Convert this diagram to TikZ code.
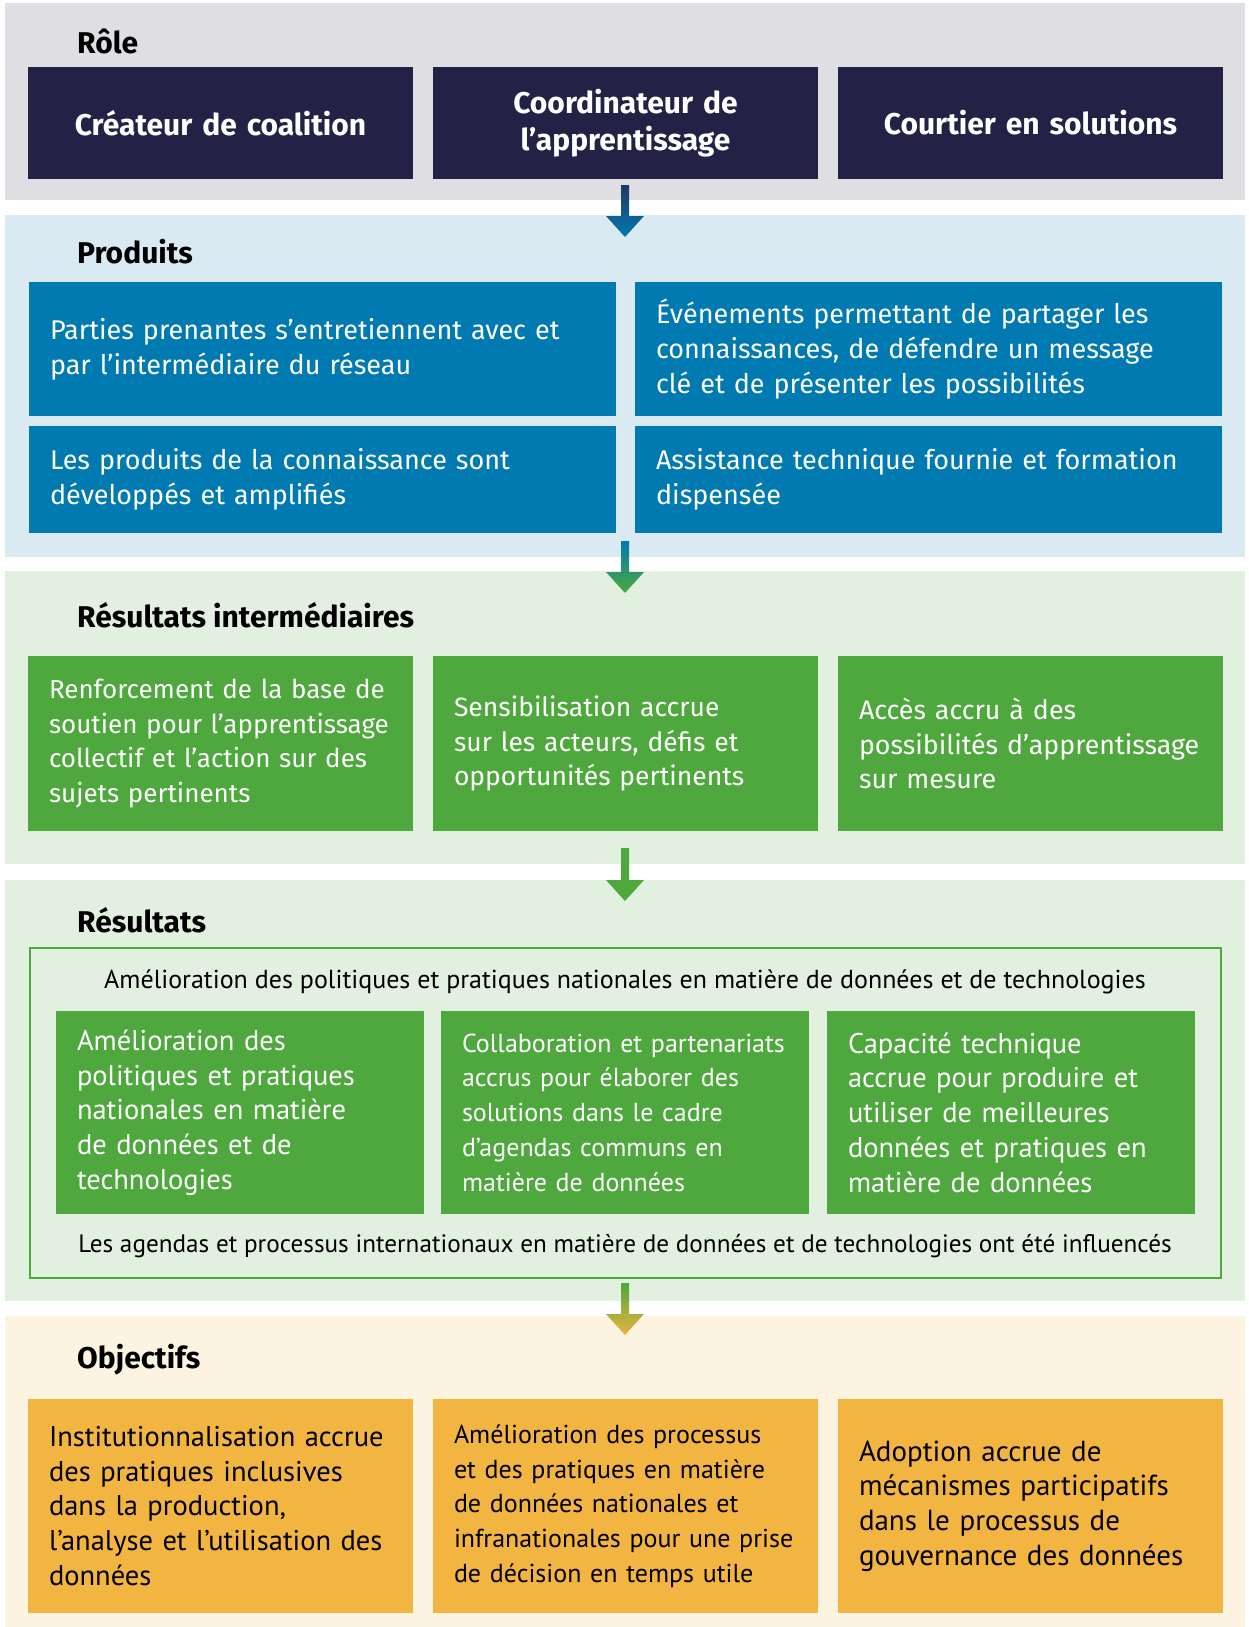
\documentclass[tikz,border=0pt]{standalone}
\usepackage{fontspec}
\setmainfont{Fira Sans}
\newfontfamily\narrowfont{PT Sans}
\usetikzlibrary{calc}

\definecolor{bandgray}{HTML}{DFDEE3}
\definecolor{bandblue}{HTML}{D9EAF2}
\definecolor{bandgreen}{HTML}{E2F0DF}
\definecolor{bandyellow}{HTML}{FCF3E1}
\definecolor{rolenavy}{HTML}{232145}
\definecolor{prodblue}{HTML}{007AB0}
\definecolor{resgreen}{HTML}{4EA83D}
\definecolor{goalorange}{HTML}{F3B542}
\definecolor{arrownavy}{HTML}{1F3862}
\definecolor{arrowgold}{HTML}{E9B43F}

% shaded block arrow from start coordinate #1 to tip coordinate #2
\newcommand{\flowarrow}[4]{%
  \shade[top color=#3, bottom color=#4] ($(#1)+(-4,0)$) -- ($(#1)+(4,0)$) -- ($(#2)+(4,-21)$)
    -- ($(#2)+(19,-21)$) -- (#2) -- ($(#2)+(-19,-21)$) -- ($(#2)+(-4,-21)$) -- cycle;
}

\begin{document}
\begin{tikzpicture}[x=1pt, y=-1pt,
  head/.style={anchor=west, inner sep=0pt, font=\bfseries\fontsize{30}{34}\selectfont},
  box/.style={rectangle, anchor=north west, inner ysep=0pt, outer sep=0pt, align=left},
  rolebox/.style={box, fill=rolenavy, text=white, minimum width=385pt, minimum height=112pt,
    inner xsep=10pt, text width=365pt, align=center, font=\bfseries\fontsize{30}{37}\selectfont},
  prodbox/.style={box, fill=prodblue, text=white, minimum width=587pt, inner xsep=21pt,
    text width=545pt, font=\fontsize{27}{34.7}\selectfont},
  midbox/.style={box, fill=resgreen, text=white, minimum width=385pt, minimum height=175pt,
    inner xsep=21pt, text width=343pt},
  resbox/.style={box, fill=resgreen, text=white, minimum width=368pt, minimum height=203pt,
    inner xsep=21pt, text width=326pt},
  goalbox/.style={box, fill=goalorange, text=black, minimum width=385pt, minimum height=214pt,
    inner xsep=21pt, text width=343pt},
  plain/.style={inner sep=0pt, font=\narrowfont\fontsize{26}{30}\selectfont}
]
\useasboundingbox (0,0) rectangle (1249,1627);

% bands
\fill[bandgray] (5,3) rectangle (1245,200);
\fill[bandblue] (5,215) rectangle (1245,557);
\fill[bandgreen] (5,571) rectangle (1245,864);
\fill[bandgreen] (5,880) rectangle (1245,1301);
\fill[bandyellow] (5,1316) rectangle (1245,1627);

% Role
\node[head] (hrole) at (77,41) {Rôle};
\foreach \i/\x/\t in {1/28/{Créateur de coalition}, 2/433/{Coordinateur de\\l’apprentissage}, 3/838/{Courtier en solutions}}{
  \node[rolebox] (role\i) at (\x,67) {\t};
}

% Produits
\node[head] (hprod) at (77,252) {Produits};
\node[prodbox, minimum height=134pt] (prod1) at (29,282) {Parties prenantes s’entretiennent avec et\\par l’intermédiaire du réseau};
\node[prodbox, minimum height=134pt] (prod2) at (635,282) {Événements permettant de partager les\\connaissances, de défendre un message\\clé et de présenter les possibilités};
\node[prodbox, minimum height=107pt] (prod3) at (29,426) {Les produits de la connaissance sont\\développés et amplifiés};
\node[prodbox, minimum height=107pt] (prod4) at (635,426) {Assistance technique fournie et formation\\dispensée};

% Resultats intermediaires
\node[head] (hmid) at (77,615) {Résultats intermédiaires};
\foreach \i/\x/\s/\t in {1/28/26/{Renforcement de la base de\\soutien pour l’apprentissage\\collectif et l’action sur des\\sujets pertinents}, 2/433/26.5/{Sensibilisation accrue\\sur les acteurs, défis et\\opportunités pertinents}, 3/838/26.8/{Accès accru à des\\possibilités d’apprentissage\\sur mesure}}{
  \node[midbox, font=\fontsize{\s}{34.7}\selectfont] (mid\i) at (\x,656) {\t};
}

% Resultats
\node[head] (hres) at (77,920) {Résultats};
\node[box, draw=resgreen, line width=2.5pt, minimum width=1191pt, minimum height=330pt] (resframe) at (30,948) {};
\node[plain] (restop) at (625,982) {Amélioration des politiques et pratiques nationales en matière de données et de technologies};
\foreach \i/\x/\s/\t in {1/56/28.5/{Amélioration des\\politiques et pratiques\\nationales en matière\\de données et de\\technologies}, 2/441/26/{Collaboration et partenariats\\accrus pour élaborer des\\solutions dans le cadre\\d’agendas communs en\\matière de données}, 3/827/28.5/{Capacité technique\\accrue pour produire et\\utiliser de meilleures\\données et pratiques en\\matière de données}}{
  \node[resbox, font=\narrowfont\fontsize{\s}{34.7}\selectfont] (res\i) at (\x,1011) {\t};
}
\node[plain, font=\narrowfont\fontsize{25.2}{30}\selectfont] (resbot) at (625,1246) {Les agendas et processus internationaux en matière de données et de technologies ont été influencés};

% Objectifs
\node[head] (hgoal) at (77,1360) {Objectifs};
\foreach \i/\x/\s/\t in {1/28/28.5/{Institutionnalisation accrue\\des pratiques inclusives\\dans la production,\\l’analyse et l’utilisation des\\données}, 2/433/26/{Amélioration des processus\\et des pratiques en matière\\de données nationales et\\infranationales pour une prise\\de décision en temps utile}, 3/838/29/{Adoption accrue de\\mécanismes participatifs\\dans le processus de\\gouvernance des données}}{
  \node[goalbox, font=\narrowfont\fontsize{\s}{34.7}\selectfont] (goal\i) at (\x,1399) {\t};
}

% arrows
\coordinate (a1s) at (625,185);  \coordinate (a1e) at (625,237);
\coordinate (a2s) at (625,541);  \coordinate (a2e) at (625,593);
\coordinate (a3s) at (625,848);  \coordinate (a3e) at (625,901);
\coordinate (a4s) at (625,1283); \coordinate (a4e) at (625,1335);
\flowarrow{a1s}{a1e}{arrownavy}{prodblue}
\flowarrow{a2s}{a2e}{prodblue}{resgreen}
\flowarrow{a3s}{a3e}{resgreen}{resgreen}
\flowarrow{a4s}{a4e}{resgreen}{arrowgold}
\end{tikzpicture}
\end{document}
